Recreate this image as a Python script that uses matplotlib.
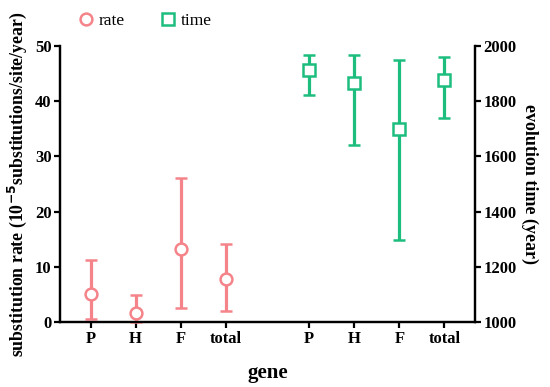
import matplotlib.pyplot as plt
import numpy as np

genes = ["P", "H", "F", "total"]

rate = [5.1, 1.7, 13.2, 7.9]
rate_low = [0.7, 0.0, 2.7, 2.0]
rate_high = [11.2, 5.0, 26.0, 14.1]

time = [1913, 1863, 1699, 1876]
time_low = [1823, 1642, 1299, 1737]
time_high = [1964, 1964, 1947, 1959]

PINK = "#f4848a"
GREEN = "#1dbd7e"

plt.rcParams["font.family"] = ["Liberation Serif", "DejaVu Serif"]
plt.rcParams["font.weight"] = "bold"

fig = plt.figure(figsize=(5.5, 3.87), dpi=100)
ax = fig.add_axes([0.109, 0.1667, 0.7546, 0.7157])
ax2 = ax.twinx()

x1 = np.arange(len(genes))
x2 = x1 + 4.86

r = np.array(rate)
ax.errorbar(x1, r, yerr=[r - np.array(rate_low), np.array(rate_high) - r],
            fmt="o", color=PINK, ecolor=PINK, elinewidth=2.3, capsize=4.5,
            capthick=2.3, markersize=8.5, markerfacecolor="white",
            markeredgewidth=1.8, label="rate", clip_on=False, zorder=3)

t = np.array(time)
ax2.errorbar(x2, t, yerr=[t - np.array(time_low), np.array(time_high) - t],
             fmt="s", color=GREEN, ecolor=GREEN, elinewidth=2.3, capsize=4.5,
             capthick=2.3, markersize=8, markerfacecolor="white",
             markeredgewidth=1.8, label="time", zorder=3)

ax.set_xlim(-0.68, 8.54)
ax.set_ylim(0, 50)
ax2.set_ylim(1000, 2000)
ax.set_xticks(np.concatenate([x1, x2]))
ax.set_xticklabels(genes + genes)
ax.set_yticks([0, 10, 20, 30, 40, 50])
ax2.set_yticks([1000, 1200, 1400, 1600, 1800, 2000])

for a in (ax, ax2):
    a.spines["top"].set_visible(False)
    for s in a.spines.values():
        s.set_linewidth(1.6)
    a.tick_params(width=1.6, length=4, labelsize=12, pad=2)
    for lbl in a.get_xticklabels() + a.get_yticklabels():
        lbl.set_fontweight("bold")

ax.set_xlabel("gene", fontsize=15, fontweight="bold", labelpad=12)
ax.set_ylabel("substitution rate (10$^{\\mathbf{-5}}$substitutions/site/year)",
              fontsize=12.8, fontweight="bold", labelpad=4)
ax2.set_ylabel("evolution time (year)", fontsize=13, fontweight="bold",
               rotation=270, labelpad=16)

h1, l1 = ax.get_legend_handles_labels()
h2, l2 = ax2.get_legend_handles_labels()
handles = [h[0] for h in h1 + h2]
fig.legend(handles, l1 + l2, loc="center left", bbox_to_anchor=(0.14, 0.946),
           ncol=2, frameon=False, handlelength=1.0, handletextpad=0.25,
           borderpad=0, borderaxespad=0, columnspacing=2.0,
           prop={"weight": "normal", "size": 12.5})

fig.savefig("out.png", dpi=100)
